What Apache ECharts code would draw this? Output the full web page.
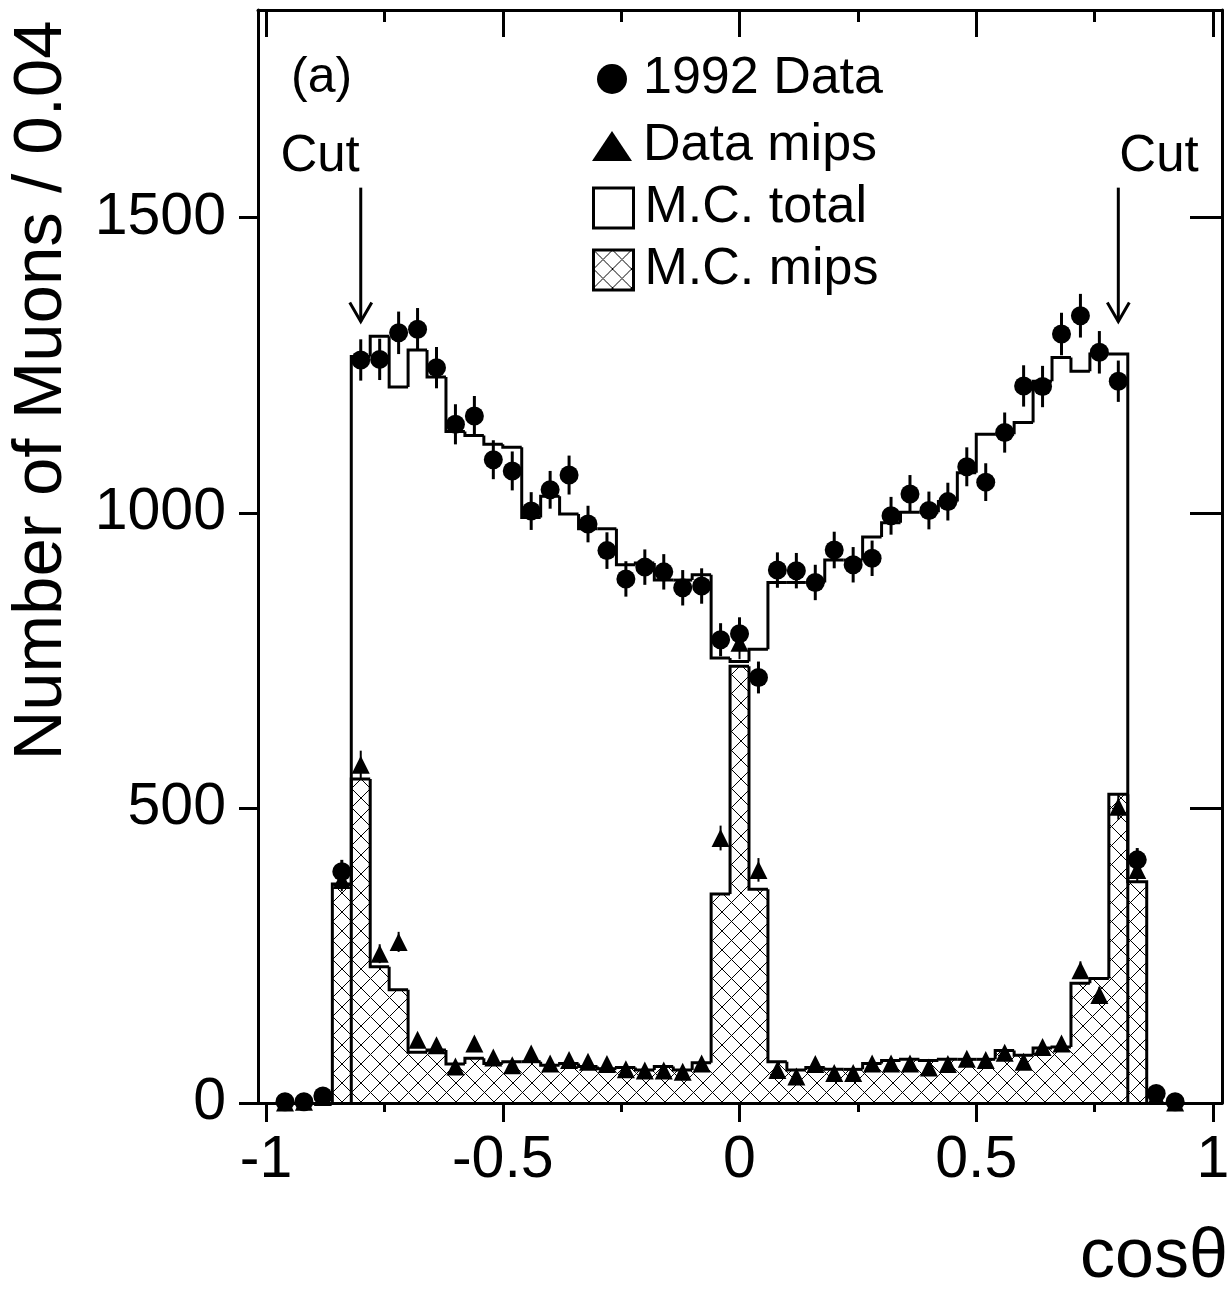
<!DOCTYPE html>
<html>
<head>
<meta charset="utf-8">
<script src="https://cdn.jsdelivr.net/npm/echarts@6/dist/echarts.min.js"></script>
<style>html,body{margin:0;padding:0;background:#fff}#chart{width:1229px;height:1292px}</style>
</head>
<body>
<div id="chart"></div>
<script>
// ---------------- data ----------------
const BIN = 0.04;
// M.C. total histogram: bin centres and contents
const mcTotalCenters = [-0.80,-0.76,-0.72,-0.68,-0.64,-0.60,-0.56,-0.52,-0.48,-0.44,-0.40,-0.36,-0.32,-0.28,-0.24,-0.20,-0.16,-0.12,-0.08,-0.04,0.00,0.04,0.08,0.12,0.16,0.20,0.24,0.28,0.32,0.36,0.40,0.44,0.48,0.52,0.56,0.60,0.64,0.68,0.72,0.76,0.80];
const mcTotal = [1265,1299,1213,1276,1230,1138,1131,1116,1111,992,1028,998,973,973,912,915,886,886,895,754,748,769,882,882,882,920,920,959,983,1001,1001,1019,1068,1133,1133,1153,1223,1263,1240,1269,1269];
// M.C. mips histogram
const mcMipsCenters = [-0.84,-0.80,-0.76,-0.72,-0.68,-0.64,-0.60,-0.56,-0.52,-0.48,-0.44,-0.40,-0.36,-0.32,-0.28,-0.24,-0.20,-0.16,-0.12,-0.08,-0.04,0.00,0.04,0.08,0.12,0.16,0.20,0.24,0.28,0.32,0.36,0.40,0.44,0.48,0.52,0.56,0.60,0.64,0.68,0.72,0.76,0.80,0.84];
const mcMips = [371,549,231,192,86,90,66,76,67,70,70,64,67,62,58,60,56,62,56,68,354,740,362,70,56,60,57,57,67,72,74,72,74,74,74,89,81,93,95,203,211,523,375];
// Data points
const dataX = [-0.96,-0.92,-0.88,-0.84,-0.80,-0.76,-0.72,-0.68,-0.64,-0.60,-0.56,-0.52,-0.48,-0.44,-0.40,-0.36,-0.32,-0.28,-0.24,-0.20,-0.16,-0.12,-0.08,-0.04,0.00,0.04,0.08,0.12,0.16,0.20,0.24,0.28,0.32,0.36,0.40,0.44,0.48,0.52,0.56,0.60,0.64,0.68,0.72,0.76,0.80,0.84,0.88,0.92];
const data1992 = [2,2,12,392,1259,1260,1305,1311,1246,1150,1164,1090,1071,1003,1039,1064,981,936,888,908,900,873,876,785,795,721,903,902,882,937,912,923,995,1032,1004,1019,1078,1052,1136,1215,1214,1303,1334,1272,1223,412,16,2];
const data1992Err = [1,1,3,20,35,35,36,36,35,34,34,33,33,32,32,33,31,31,30,30,30,30,30,28,28,27,30,30,30,31,30,30,32,32,32,32,33,32,34,35,35,36,37,36,35,20,4,1];
const dataMips = [1,2,10,378,573,253,273,107,98,62,101,77,64,84,67,73,70,66,57,55,55,53,67,449,780,395,56,45,66,51,51,67,67,67,60,66,75,73,85,70,95,101,225,183,502,395,12,1];
const dataMipsErr = [1,1,3,19,24,16,17,10,10,8,10,9,8,9,8,9,8,8,8,7,7,7,8,21,28,20,7,7,8,7,7,8,8,8,8,8,9,9,9,8,10,10,15,14,22,20,3,1];
// Axis ticks
const xTickValues = [-1, -0.5, 0, 0.5, 1];
const xMinorTickValues = [-0.75, -0.25, 0.25, 0.75];
const yTickValues = [0, 500, 1000, 1500];
// Cut positions
const cutPositions = [-0.80, 0.80];
const seriesNames = ['1992 Data', 'Data mips', 'M.C. total', 'M.C. mips'];

// ---------------- styling ----------------
const FONT = 'Liberation Sans';
const X_MIN = -1.017, X_MAX = 1.019, Y_MIN = 0, Y_MAX = 1852;

const hatch = (function () {
  const s = 19;
  const cv = document.createElement('canvas');
  cv.width = s; cv.height = s;
  const g = cv.getContext('2d');
  g.strokeStyle = '#000'; g.lineWidth = 1;
  g.beginPath();
  g.moveTo(0, 0); g.lineTo(s, s);
  g.moveTo(s, 0); g.lineTo(0, s);
  g.stroke();
  return { image: cv, repeat: 'repeat' };
})();

function outlineRenderer(values) {
  return function (params, api) {
    const i = params.dataIndex;
    const c = api.value(0), v = api.value(1);
    const prev = i > 0 ? values[i - 1] : 0;
    const pts = [
      api.coord([c - BIN / 2, prev]),
      api.coord([c - BIN / 2, v]),
      api.coord([c + BIN / 2, v])
    ];
    if (i === values.length - 1) pts.push(api.coord([c + BIN / 2, 0]));
    return { type: 'polyline', shape: { points: pts }, style: { stroke: '#000', lineWidth: 3, fill: null } };
  };
}

function hatchRenderer(params, api) {
  const c = api.value(0), v = api.value(1);
  const p0 = api.coord([c - BIN / 2, v]);
  const p1 = api.coord([c + BIN / 2, 0]);
  return { type: 'rect', shape: { x: p0[0], y: p0[1], width: p1[0] - p0[0], height: p1[1] - p0[1] }, style: { fill: hatch } };
}

function errRenderer(width) {
  return function (params, api) {
    const x = api.value(0), v = api.value(1), e = api.value(2);
    const a = api.coord([x, v - e]), b = api.coord([x, v + e]);
    return { type: 'line', shape: { x1: a[0], y1: a[1], x2: b[0], y2: b[1] }, style: { stroke: '#000', lineWidth: width } };
  };
}

function cutRenderer(params, api) {
  const x = api.value(0);
  const top = api.coord([x, 1551]);
  const tip = api.coord([x, 1324]);
  const txt = api.coord([x, 1603]);
  return {
    type: 'group',
    children: [
      { type: 'line', shape: { x1: top[0], y1: top[1], x2: tip[0], y2: tip[1] }, style: { stroke: '#000', lineWidth: 3 } },
      { type: 'polyline', shape: { points: [[tip[0] - 11, tip[1] - 19], [tip[0], tip[1]], [tip[0] + 11, tip[1] - 19]] }, style: { stroke: '#000', lineWidth: 3, fill: null } },
      { type: 'text', style: { text: 'Cut', x: txt[0] + (x < 0 ? -1 : 1), y: txt[1], textAlign: x < 0 ? 'right' : 'left', textVerticalAlign: 'middle', font: '51px "' + FONT + '"', fill: '#000' } }
    ]
  };
}

const axisLineStyle = { color: '#000', width: 3 };
const gridRect = { left: 258, top: 10, right: 7, bottom: 189, containLabel: false, outerBoundsMode: 'none' };

const option = {
  animation: false,
  backgroundColor: '#fff',
  textStyle: { fontFamily: FONT, color: '#000' },
  title: { text: '(a)', left: 286, top: 48, textStyle: { fontSize: 50, fontWeight: 'normal', color: '#000', fontFamily: FONT } },
  legend: [
    {
      selectedMode: false, orient: 'vertical', left: 587, top: 48,
      itemWidth: 40, itemHeight: 30, itemGap: 15,
      textStyle: { fontSize: 52, lineHeight: 40, color: '#000', fontFamily: FONT, padding: [0, 0, 0, 6] },
      data: [
        { name: seriesNames[0], icon: 'circle', itemStyle: { color: '#000' } },
        { name: seriesNames[1], icon: 'triangle', itemStyle: { color: '#000' } }
      ]
    },
    {
      selectedMode: false, orient: 'vertical', left: 587, top: 177,
      itemWidth: 40, itemHeight: 40, itemGap: 10,
      textStyle: { fontSize: 52, lineHeight: 40, color: '#000', fontFamily: FONT, padding: [0, 0, 0, 6] },
      data: [
        { name: seriesNames[2], icon: 'rect', itemStyle: { color: '#fff', borderColor: '#000', borderWidth: 3 } },
        { name: seriesNames[3], icon: 'rect', itemStyle: { color: hatch, borderColor: '#000', borderWidth: 3 } }
      ]
    }
  ],
  grid: [Object.assign({}, gridRect), Object.assign({}, gridRect)],
  xAxis: [
    {
      gridIndex: 0, type: 'value', position: 'bottom', min: X_MIN, max: X_MAX,
      axisLine: { show: true, onZero: false, lineStyle: axisLineStyle },
      axisTick: { show: true, inside: false, length: 19, customValues: xTickValues, lineStyle: axisLineStyle },
      axisLabel: { show: true, customValues: xTickValues, fontSize: 59, lineHeight: 59, margin: 28, color: '#000', fontFamily: FONT, formatter: v => String(v) },
      splitLine: { show: false },
      name: 'cosθ', nameLocation: 'end', nameGap: -142, nameMoveOverlap: false,
      nameTextStyle: { fontSize: 70, lineHeight: 70, verticalAlign: 'top', padding: [120, 0, 0, 0], color: '#000', fontFamily: FONT }
    },
    {
      gridIndex: 0, type: 'value', position: 'top', min: X_MIN, max: X_MAX,
      axisLine: { show: true, onZero: false, lineStyle: axisLineStyle },
      axisTick: { show: true, inside: true, length: 27, customValues: xTickValues, lineStyle: axisLineStyle },
      axisLabel: { show: false }, splitLine: { show: false }
    },
    {
      gridIndex: 1, type: 'value', position: 'bottom', min: X_MIN, max: X_MAX,
      axisLine: { show: false },
      axisTick: { show: true, inside: false, length: 9, customValues: xMinorTickValues, lineStyle: axisLineStyle },
      axisLabel: { show: false }, splitLine: { show: false }
    },
    {
      gridIndex: 1, type: 'value', position: 'top', min: X_MIN, max: X_MAX,
      axisLine: { show: false },
      axisTick: { show: true, inside: true, length: 12, customValues: xMinorTickValues, lineStyle: axisLineStyle },
      axisLabel: { show: false }, splitLine: { show: false }
    }
  ],
  yAxis: [
    {
      gridIndex: 0, type: 'value', position: 'left', min: Y_MIN, max: Y_MAX,
      axisLine: { show: true, onZero: false, lineStyle: axisLineStyle },
      axisTick: { show: true, inside: false, length: 19, customValues: yTickValues, lineStyle: axisLineStyle },
      axisLabel: { show: true, customValues: yTickValues, fontSize: 59, margin: 32, color: '#000', fontFamily: FONT, formatter: v => String(v) },
      splitLine: { show: false },
      name: 'Number of Muons / 0.04', nameLocation: 'middle', nameGap: 181,
      nameTextStyle: { fontSize: 69, lineHeight: 70, padding: [0, 0, 0, 332], color: '#000', fontFamily: FONT }
    },
    {
      gridIndex: 0, type: 'value', position: 'right', min: Y_MIN, max: Y_MAX,
      axisLine: { show: true, onZero: false, lineStyle: axisLineStyle },
      axisTick: { show: true, inside: true, length: 32, customValues: yTickValues, lineStyle: axisLineStyle },
      axisLabel: { show: false }, splitLine: { show: false }
    },
    { gridIndex: 1, type: 'value', show: false, min: Y_MIN, max: Y_MAX }
  ],
  series: [
    {
      name: seriesNames[3], type: 'custom', xAxisIndex: 0, yAxisIndex: 0, z: 1, clip: true,
      renderItem: hatchRenderer,
      data: mcMipsCenters.map((c, i) => [c, mcMips[i]])
    },
    {
      name: seriesNames[3], type: 'custom', xAxisIndex: 0, yAxisIndex: 0, z: 2, clip: true,
      renderItem: outlineRenderer(mcMips),
      data: mcMipsCenters.map((c, i) => [c, mcMips[i]])
    },
    {
      name: seriesNames[2], type: 'custom', xAxisIndex: 0, yAxisIndex: 0, z: 2, clip: true,
      renderItem: outlineRenderer(mcTotal),
      data: mcTotalCenters.map((c, i) => [c, mcTotal[i]])
    },
    {
      name: seriesNames[0], type: 'custom', xAxisIndex: 0, yAxisIndex: 0, z: 3, clip: true,
      renderItem: errRenderer(3),
      data: dataX.map((x, i) => [x, data1992[i], data1992Err[i]])
    },
    {
      name: seriesNames[1], type: 'custom', xAxisIndex: 0, yAxisIndex: 0, z: 3, clip: true,
      renderItem: errRenderer(2),
      data: dataX.map((x, i) => [x, dataMips[i], dataMipsErr[i]])
    },
    {
      name: seriesNames[1], type: 'scatter', xAxisIndex: 0, yAxisIndex: 0, z: 4,
      symbol: 'triangle', symbolSize: 18, itemStyle: { color: '#000', opacity: 1 },
      data: dataX.map((x, i) => [x, dataMips[i]])
    },
    {
      name: seriesNames[0], type: 'scatter', xAxisIndex: 0, yAxisIndex: 0, z: 5,
      symbol: 'circle', symbolSize: 19, itemStyle: { color: '#000', opacity: 1 },
      data: dataX.map((x, i) => [x, data1992[i]])
    },
    {
      name: 'Cut', type: 'custom', xAxisIndex: 0, yAxisIndex: 0, z: 6, clip: false,
      renderItem: cutRenderer,
      data: cutPositions.map(x => [x, 1551])
    }
  ]
};

const chart = echarts.init(document.getElementById('chart'), null, { renderer: 'canvas' });
chart.setOption(option);
</script>
</body>
</html>
